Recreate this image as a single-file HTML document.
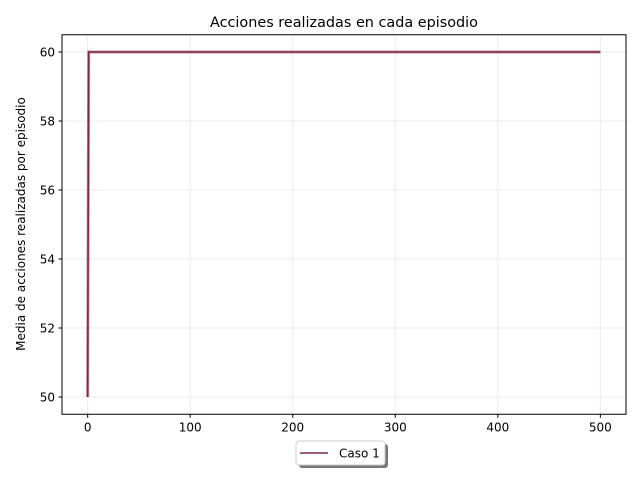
<!DOCTYPE html>
<html><head><meta charset="utf-8"><style>
body{margin:0;background:#fff;font-family:"DejaVu Sans","Liberation Sans",sans-serif;}
</style></head><body>
<svg width="640" height="480" xmlns="http://www.w3.org/2000/svg" font-family="DejaVu Sans, Liberation Sans, sans-serif">
<rect width="640" height="480" fill="#fff"/>
<text x="344" y="27" text-anchor="middle" font-size="14.4">Acciones realizadas en cada episodio</text>
<g id="grid"></g>
<g id="ticks" font-size="12"></g>
<path id="series" fill="none" stroke="#c98a9e" stroke-width="3"/>
<path id="series2" fill="none" stroke="#7a2a4a" stroke-width="1.5"/>
<rect x="62" y="34.75" width="564" height="379.5" fill="none" stroke="#000" stroke-width="1"/>
<text transform="translate(25,224) rotate(-90)" text-anchor="middle" font-size="12">Media de acciones realizadas por episodio</text>
<g>
<rect x="299" y="444" width="89" height="24" rx="3" fill="#777"/>
<rect x="296" y="441" width="89" height="24" rx="3" fill="#fff" stroke="#ccc"/>
<line x1="300" y1="453" x2="328" y2="453" stroke="#7a2a4a" stroke-width="1.5"/>
<text x="339" y="457.5" font-size="12">Caso 1</text>
</g>
<script>
const xs=[0,1,500];
const ys=[50,60,60];
const xTicks=[0,100,200,300,400,500];
const yTicks=[50,52,54,56,58,60];
const L=62,R=626,T=34.75,B=414.25,x0=-25,x1=525,y0=49.5,y1=60.5;
const sx=v=>L+(v-x0)/(x1-x0)*(R-L), sy=v=>B-(v-y0)/(y1-y0)*(B-T);
const NS="http://www.w3.org/2000/svg";
const g=document.getElementById('grid'),tk=document.getElementById('ticks');
function mk(tag,a,p){const e=document.createElementNS(NS,tag);for(const k in a)e.setAttribute(k,a[k]);p.appendChild(e);return e;}
xTicks.forEach(v=>{const x=sx(v);
const gl=mk('line',{x1:x,x2:x,y1:T,y2:B,stroke:'#ebebeb'},g);


mk('line',{x1:x,x2:x,y1:B,y2:B+3.5,stroke:'#000'},tk);
const t=mk('text',{x:x,y:B+17,'text-anchor':'middle'},tk);t.textContent=v;

});
yTicks.forEach(v=>{const y=sy(v);
const gl=mk('line',{x1:L,x2:R,y1:y,y2:y,stroke:'#ebebeb'},g);


mk('line',{x1:L-3.5,x2:L,y1:y,y2:y,stroke:'#000'},tk);
const t=mk('text',{x:L-7,y:y+4.5,'text-anchor':'end'},tk);t.textContent=v;

});
const d=xs.map((x,i)=>(i?'L':'M')+sx(x)+','+sy(ys[i])).join(' ');
document.getElementById('series').setAttribute('d',d);
document.getElementById('series2').setAttribute('d',d);
</script>
</svg>
</body></html>
